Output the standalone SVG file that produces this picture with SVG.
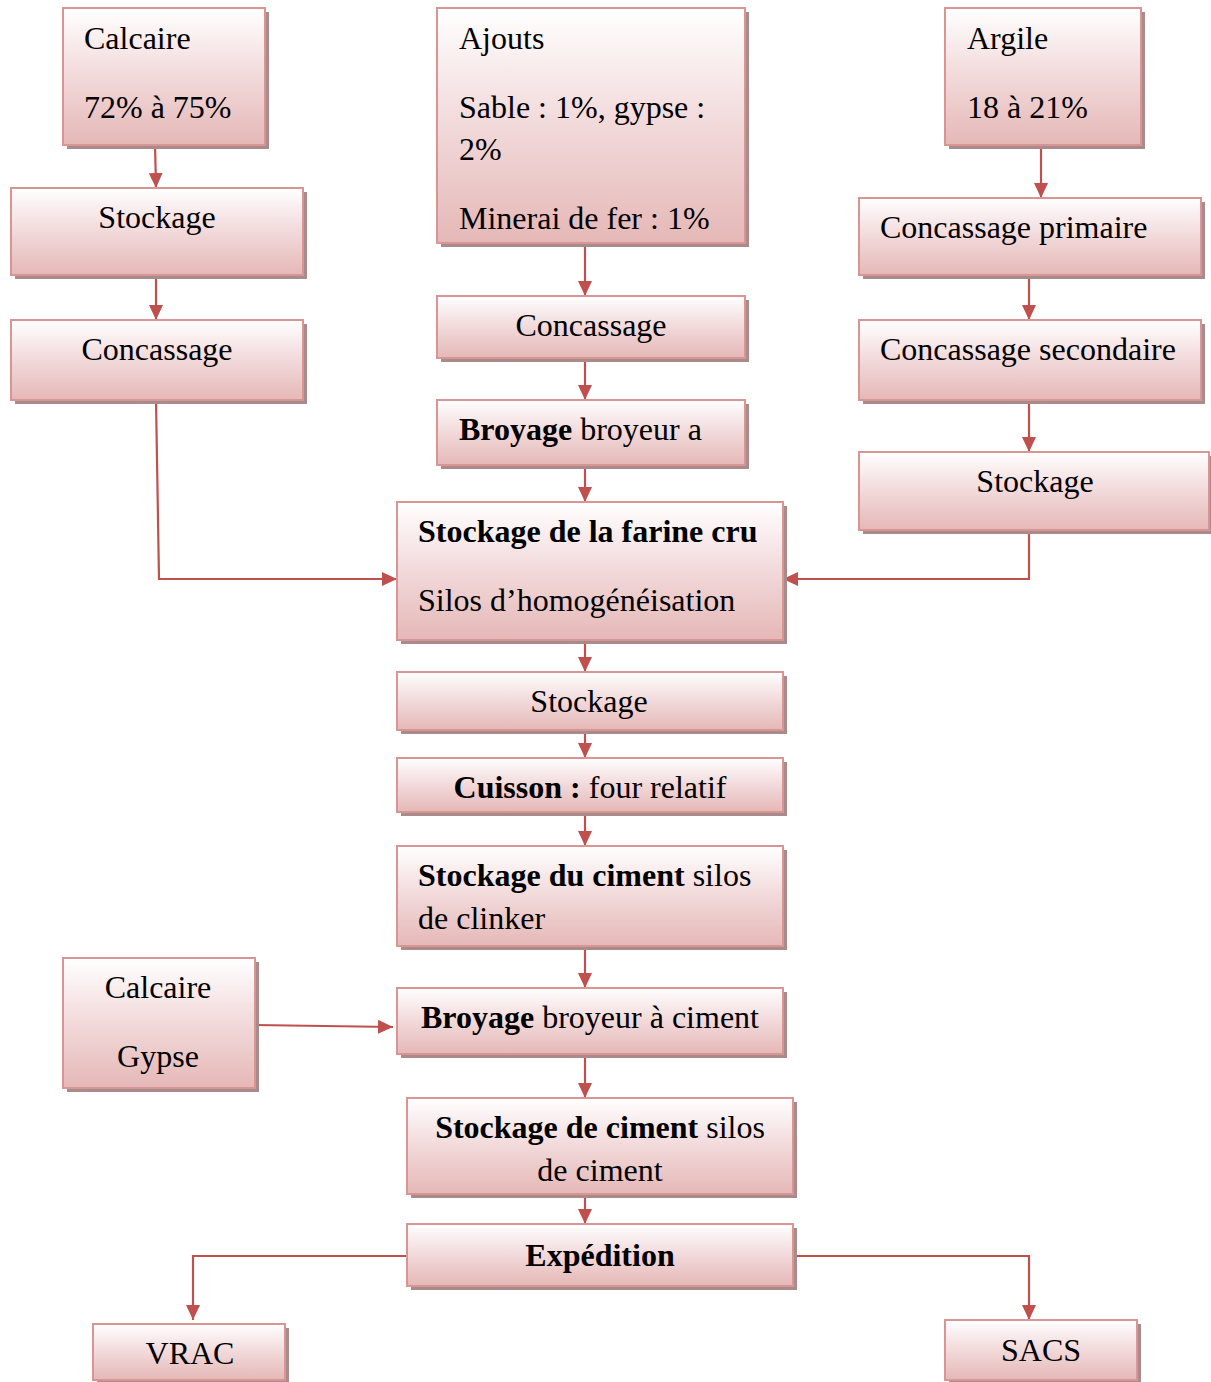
<svg xmlns="http://www.w3.org/2000/svg" width="1211" height="1382" viewBox="0 0 1211 1382">
<defs>
<linearGradient id="g" x1="0" y1="0" x2="0" y2="1">
<stop offset="0" stop-color="#ffffff"/>
<stop offset="0.5" stop-color="#f2d9da"/>
<stop offset="1" stop-color="#e5b8b7"/>
</linearGradient>
<marker id="ah" markerWidth="15" markerHeight="14" refX="15" refY="7" orient="auto" markerUnits="userSpaceOnUse">
<path d="M0,0 L15,7 L0,14 Z" fill="#c0504d"/>
</marker>
</defs>
<style>
.sh{fill:#a98b8b}
.bx{fill:url(#g);stroke:#d99594;stroke-width:2}
text{font-family:"Liberation Serif","Times New Roman",serif;font-size:32px;fill:#000}
.b{font-weight:bold}
.c{text-anchor:middle}
.cn{fill:none;stroke:#c0504d;stroke-width:2.2;marker-end:url(#ah)}
</style>

<g id="connectors">
<path class="cn" d="M155,143 L156,188"/>
<path class="cn" d="M156,275 L156,320"/>
<path class="cn" d="M156,400 L159,579 L397,579"/>
<path class="cn" d="M585,243 L585,296"/>
<path class="cn" d="M585,358 L585,400"/>
<path class="cn" d="M585,465 L585,502"/>
<path class="cn" d="M1041,145 L1041,198"/>
<path class="cn" d="M1029,275 L1029,320"/>
<path class="cn" d="M1029,400 L1029,452"/>
<path class="cn" d="M1029,530 L1029,579 L783,579"/>
<path class="cn" d="M585,640 L585,672"/>
<path class="cn" d="M585,730 L585,758"/>
<path class="cn" d="M585,812 L585,846"/>
<path class="cn" d="M585,946 L585,988"/>
<path class="cn" d="M255,1025 L393,1027"/>
<path class="cn" d="M585,1054 L585,1098"/>
<path class="cn" d="M585,1194 L585,1224"/>
<path class="cn" d="M407,1256 L193,1256 L193,1320"/>
<path class="cn" d="M793,1256 L1029,1256 L1029,1320"/>
</g>

<g id="calcaire">
<rect class="sh" x="67" y="12" width="202" height="137"/>
<rect class="bx" x="63" y="8" width="202" height="137"/>
<text x="84" y="49">Calcaire</text>
<text x="84" y="118">72% à 75%</text>
</g>

<g id="stockage-left">
<rect class="sh" x="15" y="192" width="292" height="87"/>
<rect class="bx" x="11" y="188" width="292" height="87"/>
<text class="c" x="157" y="228">Stockage</text>
</g>

<g id="concassage-left">
<rect class="sh" x="15" y="324" width="292" height="80"/>
<rect class="bx" x="11" y="320" width="292" height="80"/>
<text class="c" x="157" y="360">Concassage</text>
</g>

<g id="ajouts">
<rect class="sh" x="441" y="12" width="308" height="235"/>
<rect class="bx" x="437" y="8" width="308" height="235"/>
<text x="459" y="49">Ajouts</text>
<text x="459" y="118">Sable : 1%, gypse :</text>
<text x="459" y="160">2%</text>
<text x="459" y="229">Minerai de fer : 1%</text>
</g>

<g id="concassage-mid">
<rect class="sh" x="441" y="300" width="308" height="62"/>
<rect class="bx" x="437" y="296" width="308" height="62"/>
<text class="c" x="591" y="336">Concassage</text>
</g>

<g id="broyage-a">
<rect class="sh" x="441" y="404" width="308" height="65"/>
<rect class="bx" x="437" y="400" width="308" height="65"/>
<text x="459" y="440"><tspan class="b">Broyage</tspan> broyeur a</text>
</g>

<g id="argile">
<rect class="sh" x="949" y="12" width="196" height="137"/>
<rect class="bx" x="945" y="8" width="196" height="137"/>
<text x="967" y="49">Argile</text>
<text x="967" y="118">18 à 21%</text>
</g>

<g id="concassage-primaire">
<rect class="sh" x="863" y="202" width="342" height="77"/>
<rect class="bx" x="859" y="198" width="342" height="77"/>
<text x="880" y="238">Concassage primaire</text>
</g>

<g id="concassage-secondaire">
<rect class="sh" x="863" y="324" width="342" height="80"/>
<rect class="bx" x="859" y="320" width="342" height="80"/>
<text x="880" y="360">Concassage secondaire</text>
</g>

<g id="stockage-right">
<rect class="sh" x="863" y="456" width="350" height="78"/>
<rect class="bx" x="859" y="452" width="350" height="78"/>
<text class="c" x="1035" y="492">Stockage</text>
</g>

<g id="farine">
<rect class="sh" x="401" y="506" width="386" height="138"/>
<rect class="bx" x="397" y="502" width="386" height="138"/>
<text class="b" x="418" y="542">Stockage de la farine cru</text>
<text x="418" y="611">Silos d’homogénéisation</text>
</g>

<g id="stockage-mid">
<rect class="sh" x="401" y="676" width="386" height="58"/>
<rect class="bx" x="397" y="672" width="386" height="58"/>
<text class="c" x="589" y="712">Stockage</text>
</g>

<g id="cuisson">
<rect class="sh" x="401" y="762" width="386" height="54"/>
<rect class="bx" x="397" y="758" width="386" height="54"/>
<text class="c" x="590" y="798"><tspan class="b">Cuisson :</tspan> four relatif</text>
</g>

<g id="stockage-clinker">
<rect class="sh" x="401" y="850" width="386" height="100"/>
<rect class="bx" x="397" y="846" width="386" height="100"/>
<text x="418" y="886"><tspan class="b">Stockage du ciment</tspan> silos</text>
<text x="418" y="929">de clinker</text>
</g>

<g id="calcaire-gypse">
<rect class="sh" x="67" y="962" width="192" height="130"/>
<rect class="bx" x="63" y="958" width="192" height="130"/>
<text class="c" x="158" y="998">Calcaire</text>
<text class="c" x="158" y="1067">Gypse</text>
</g>

<g id="broyage-ciment">
<rect class="sh" x="401" y="992" width="386" height="66"/>
<rect class="bx" x="397" y="988" width="386" height="66"/>
<text class="c" x="590" y="1028"><tspan class="b">Broyage</tspan> broyeur à ciment</text>
</g>

<g id="stockage-ciment">
<rect class="sh" x="411" y="1102" width="386" height="96"/>
<rect class="bx" x="407" y="1098" width="386" height="96"/>
<text class="c" x="600" y="1138"><tspan class="b">Stockage de ciment</tspan> silos</text>
<text class="c" x="600" y="1181">de ciment</text>
</g>

<g id="expedition">
<rect class="sh" x="411" y="1228" width="386" height="62"/>
<rect class="bx" x="407" y="1224" width="386" height="62"/>
<text class="c b" x="600" y="1266">Expédition</text>
</g>

<g id="vrac">
<rect class="sh" x="97" y="1328" width="192" height="56"/>
<rect class="bx" x="93" y="1324" width="192" height="56"/>
<text class="c" x="190" y="1364">VRAC</text>
</g>

<g id="sacs">
<rect class="sh" x="949" y="1324" width="192" height="60"/>
<rect class="bx" x="945" y="1320" width="192" height="60"/>
<text class="c" x="1041" y="1361">SACS</text>
</g>
</svg>
